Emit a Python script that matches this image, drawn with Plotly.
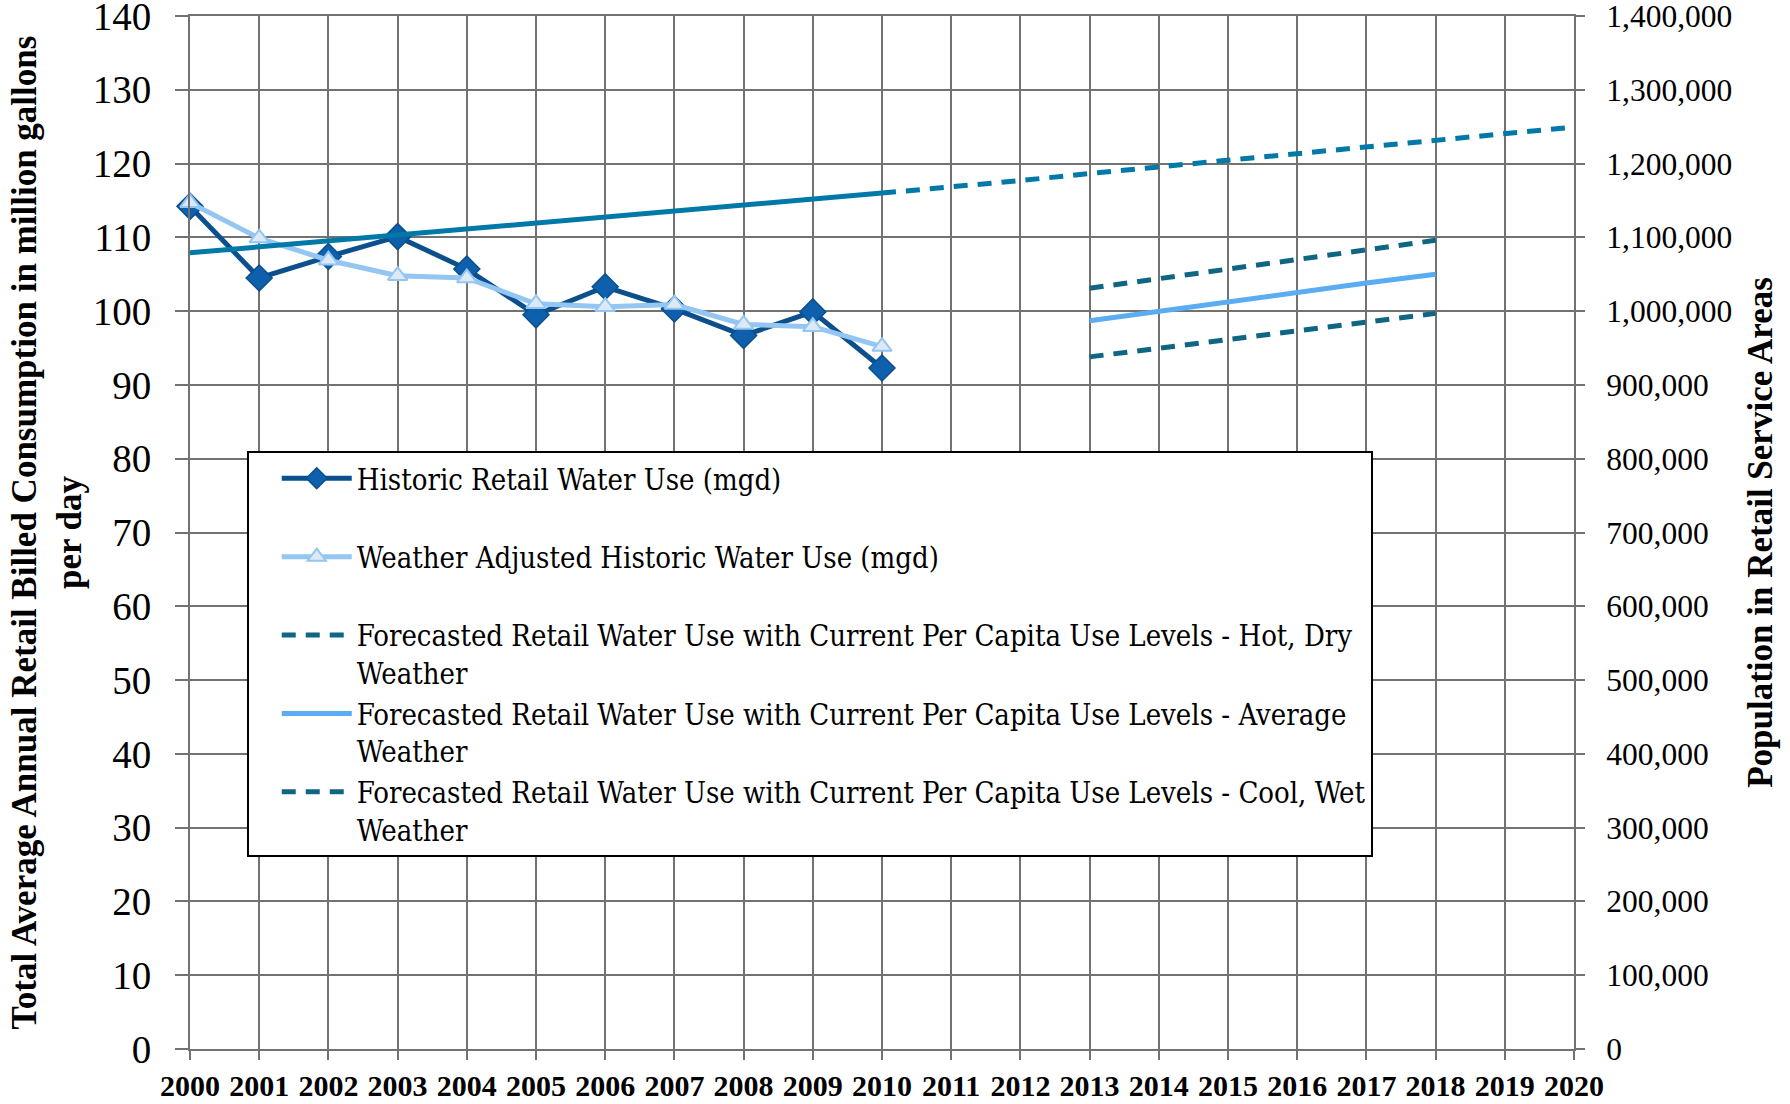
import plotly.graph_objects as go

years_hist = [2000, 2001, 2002, 2003, 2004, 2005, 2006, 2007, 2008, 2009, 2010]
historic = [114.2, 104.5, 107.4, 110.1, 105.7, 99.5, 103.3, 100.3, 96.7, 99.9, 92.3]
weather_adj = [114.7, 109.9, 106.9, 104.8, 104.5, 101.0, 100.6, 100.9, 98.2, 97.9, 95.2]

years_pop_hist = [2000, 2001, 2002, 2003, 2004, 2005, 2006, 2007, 2008, 2009, 2010]
pop_hist = [1079000, 1087000, 1095000, 1103000, 1111000, 1119000, 1127000, 1135000, 1143000, 1151000, 1160000]
years_pop_fc = [2010, 2011, 2012, 2013, 2014, 2015, 2016, 2017, 2018, 2019, 2020]
pop_fc = [1160000, 1168000, 1177000, 1186500, 1195500, 1204500, 1213500, 1222500, 1231500, 1240500, 1249500]

years_fc = [2013, 2014, 2015, 2016, 2017, 2018]
fc_hot = [103.1, 104.4, 105.7, 107.0, 108.3, 109.6]
fc_avg = [98.7, 100.0, 101.3, 102.5, 103.8, 105.0]
fc_cool = [93.8, 95.0, 96.2, 97.4, 98.6, 99.7]

y_ticks = list(range(0, 141, 10))
y2_ticks = list(range(0, 1400001, 100000))
x_ticks = list(range(2000, 2021))

FONT = "Liberation Serif"
LEG_FONT = "DejaVu Serif Condensed, Liberation Serif, serif"
GRID = "#727272"
C_HIST = "#0B4F8C"
C_HIST_M = "#0E60AC"
C_ADJ = "#93C6F2"
C_ADJ_M = "#DDE9F6"
C_POP = "#0079A8"
C_FC = "#0E6682"
C_AVG = "#5AADF2"

fig = go.Figure()

fig.add_trace(go.Scatter(x=years_pop_hist, y=pop_hist, yaxis="y2", mode="lines",
                         line=dict(color=C_POP, width=5), showlegend=False, hoverinfo="skip"))
fig.add_trace(go.Scatter(x=years_pop_fc, y=pop_fc, yaxis="y2", mode="lines",
                         line=dict(color=C_POP, width=5, dash="14px,10px"), showlegend=False, hoverinfo="skip"))

fig.add_trace(go.Scatter(x=years_hist, y=historic, mode="lines+markers",
                         name="Historic Retail Water Use (mgd)<br> ",
                         line=dict(color=C_HIST, width=5),
                         marker=dict(symbol="diamond", size=20, color=C_HIST_M,
                                     line=dict(color=C_HIST, width=1.5)),
                         cliponaxis=False))
fig.add_trace(go.Scatter(x=years_hist, y=weather_adj, mode="lines+markers",
                         name="Weather Adjusted Historic Water Use (mgd)<br> ",
                         line=dict(color=C_ADJ, width=5),
                         marker=dict(symbol="triangle-up", size=17, color=C_ADJ_M,
                                     line=dict(color=C_ADJ, width=2)),
                         cliponaxis=False))
fig.add_trace(go.Scatter(x=years_fc, y=fc_hot, mode="lines",
                         name="Forecasted Retail Water Use with Current Per Capita Use Levels - Hot, Dry<br>Weather",
                         line=dict(color=C_FC, width=5, dash="14px,10px")))
fig.add_trace(go.Scatter(x=years_fc, y=fc_avg, mode="lines",
                         name="Forecasted Retail Water Use with Current Per Capita Use Levels - Average<br>Weather",
                         line=dict(color=C_AVG, width=5)))
fig.add_trace(go.Scatter(x=years_fc, y=fc_cool, mode="lines",
                         name="Forecasted Retail Water Use with Current Per Capita Use Levels - Cool, Wet<br>Weather",
                         line=dict(color=C_FC, width=5, dash="14px,10px")))

fig.update_layout(
    width=1790, height=1104,
    margin=dict(l=190, r=216, t=16, b=55),
    paper_bgcolor="white", plot_bgcolor="white",
    font=dict(family=FONT, color="black"),
    xaxis=dict(range=[2000, 2020], tickvals=x_ticks, ticktext=[str(v) for v in x_ticks],
               showgrid=True, gridcolor=GRID, gridwidth=2, automargin=False,
               showline=True, linecolor=GRID, linewidth=2, mirror=True,
               ticks="outside", ticklen=9, tickwidth=2, tickcolor=GRID,
               ticklabeloverflow="allow",
               tickfont=dict(size=30, family=FONT, weight="bold"), zeroline=False),
    yaxis=dict(range=[0, 140], tickvals=y_ticks, automargin=False,
               showgrid=True, gridcolor=GRID, gridwidth=2,
               showline=True, linecolor=GRID, linewidth=2, mirror=True,
               ticks="outside", ticklen=13, tickwidth=2, tickcolor=GRID,
               ticklabelstandoff=16, ticklabeloverflow="allow",
               tickfont=dict(size=39, family=FONT), zeroline=False,
               title=dict(text="Total Average Annual Retail Billed Consumption in million gallons<br>per day",
                          font=dict(size=35, family=FONT, weight="bold"), standoff=0)),
    yaxis2=dict(range=[0, 1400000], tickvals=y2_ticks, tickformat=",",
                overlaying="y", side="right", showgrid=False, zeroline=False, automargin=False,
                ticks="outside", ticklen=10, tickwidth=2, tickcolor=GRID,
                ticklabelstandoff=15, ticklabeloverflow="allow",
                tickfont=dict(size=31.5, family=FONT),
                title=dict(text="Population in Retail Service Areas",
                           font=dict(size=35, family=FONT, weight="bold"), standoff=16)),
    legend=dict(x=0.041, y=0.579, xanchor="left", yanchor="top",
                bgcolor="white", bordercolor="black", borderwidth=2,
                font=dict(size=29, family=LEG_FONT, color="black"),
                valign="top", itemwidth=70, tracegroupgap=0, indentation=28),
    showlegend=True,
)

fig.write_html("out.html", config={"displayModeBar": False},
               post_script="document.body.style.margin='0';")
